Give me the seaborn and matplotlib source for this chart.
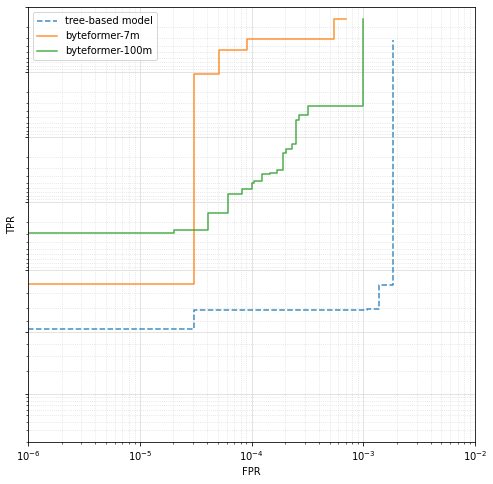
import numpy as np
import pandas as pd
import matplotlib
matplotlib.use('Agg')
import matplotlib.pyplot as plt
from matplotlib.ticker import NullFormatter
import seaborn as sns

# ROC points (FPR, TPR), drawn as post steps
tree_fpr = [1e-6, 3.06e-5, 1.08e-3, 1.39e-3, 1.83e-3]
tree_tpr = [0.530, 0.686, 0.6936, 0.843, 0.999968]

bf7m_fpr = [1e-6, 3.06e-5, 5.08e-5, 9.2e-5, 5.5e-4, 7.0e-4]
bf7m_tpr = [0.846, 0.999891, 0.999954, 0.9999693, 0.9999847, 0.9999847]

bf100m_fpr = [1e-6, 2.04e-5, 4.10e-5, 6.12e-5, 8.17e-5, 1.005e-4, 1.06e-4, 1.25e-4,
              1.466e-4, 1.68e-4, 1.90e-4, 2.02e-4, 2.29e-4, 2.50e-4, 2.66e-4,
              3.22e-4, 1.0e-3]
bf100m_tpr = [0.9710, 0.9741, 0.9854, 0.9926, 0.99384, 0.99496, 0.99535, 0.99629,
              0.99650, 0.99678, 0.99827, 0.99847, 0.99872, 0.999457, 0.999546,
              0.999662, 0.9999847]

names = ['tree-based model', 'byteformer-7m', 'byteformer-100m']
colors = ['#1f77b4', '#ff7f0e', '#2ca02c']
styles = ['--', '-', '-']

fig = plt.figure(figsize=(493 / 72, 484 / 72), dpi=72)
ax = fig.add_axes([28 / 493, 1 - 442 / 484, 447 / 493, 435 / 484])

for name, fpr, tpr, c, ls in zip(names, [tree_fpr, bf7m_fpr, bf100m_fpr],
                                 [tree_tpr, bf7m_tpr, bf100m_tpr], colors, styles):
    df = pd.DataFrame({'FPR': fpr, 'TPR': tpr})
    sns.lineplot(data=df, x='FPR', y='TPR', ax=ax, color=c, linestyle=ls,
                 drawstyle='steps-post', label=name, linewidth=1.5, alpha=0.85)

ax.set_xscale('log')
ax.set_yscale('logit')
ax.set_xlim(1e-6, 1e-2)
ax.set_ylim(0.02, 0.99999)
ax.yaxis.set_major_formatter(NullFormatter())
ax.yaxis.set_minor_formatter(NullFormatter())
ax.grid(which='major', color='#dddddd', linewidth=0.8)
ax.grid(which='minor', color='#dddddd', linestyle=':', linewidth=0.8)
ax.set_axisbelow(True)
ax.set_xlabel('FPR')
ax.set_ylabel('TPR')
ax.legend(loc='upper left')

fig.savefig('out.png', dpi=72)
